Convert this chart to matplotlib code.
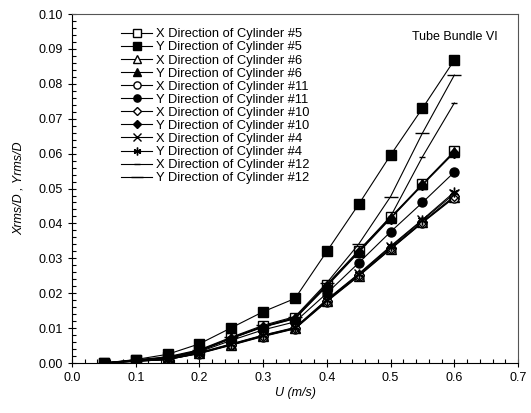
import matplotlib.pyplot as plt
import numpy as np
from matplotlib.ticker import MultipleLocator

plt.rcParams['font.family'] = ['Liberation Sans', 'DejaVu Sans']

# flow velocity U (m/s)
u = [0.05, 0.10, 0.15, 0.20, 0.25, 0.30, 0.35, 0.40, 0.45, 0.50, 0.55, 0.60]

# rms amplitudes
x_cyl5 = [0.0, 0.0008, 0.0016, 0.0036, 0.0072, 0.0105, 0.0130, 0.0225, 0.0322, 0.0418, 0.0513, 0.0607]
y_cyl5 = [0.0, 0.0010, 0.0025, 0.0055, 0.0101, 0.0147, 0.0185, 0.0320, 0.0455, 0.0596, 0.0730, 0.0868]
x_cyl6 = [0.0, 0.0005, 0.0010, 0.0028, 0.0052, 0.0077, 0.0099, 0.0178, 0.0250, 0.0327, 0.0403, 0.0476]
y_cyl6 = [0.0, 0.0008, 0.0015, 0.0035, 0.0071, 0.0104, 0.0128, 0.0222, 0.0319, 0.0416, 0.0512, 0.0605]
x_cyl11 = [0.0, 0.0005, 0.0010, 0.0027, 0.0051, 0.0076, 0.0098, 0.0176, 0.0249, 0.0326, 0.0402, 0.0474]
y_cyl11 = [0.0, 0.0007, 0.0012, 0.0032, 0.0065, 0.0095, 0.0118, 0.0200, 0.0287, 0.0376, 0.0460, 0.0547]
x_cyl10 = [0.0, 0.0005, 0.0010, 0.0028, 0.0053, 0.0078, 0.0100, 0.0179, 0.0252, 0.0330, 0.0405, 0.0478]
y_cyl10 = [0.0, 0.0008, 0.0014, 0.0034, 0.0070, 0.0103, 0.0127, 0.0220, 0.0317, 0.0414, 0.0510, 0.0603]
x_cyl4 = [0.0, 0.0006, 0.0011, 0.0029, 0.0054, 0.0079, 0.0101, 0.0181, 0.0254, 0.0333, 0.0409, 0.0485]
y_cyl4 = [0.0, 0.0006, 0.0011, 0.0030, 0.0055, 0.0080, 0.0102, 0.0182, 0.0256, 0.0335, 0.0411, 0.0490]
x_cyl12 = [0.0, 0.0008, 0.0016, 0.0036, 0.0072, 0.0105, 0.0130, 0.0225, 0.0322, 0.0420, 0.0591, 0.0745]
y_cyl12 = [0.0, 0.0009, 0.0018, 0.0038, 0.0074, 0.0108, 0.0133, 0.0230, 0.0341, 0.0477, 0.0659, 0.0825]

series = [
    ("X Direction of Cylinder #5", x_cyl5, 's', 'white', 6.5),
    ("Y Direction of Cylinder #5", y_cyl5, 's', 'black', 6.5),
    ("X Direction of Cylinder #6", x_cyl6, '^', 'white', 6.5),
    ("Y Direction of Cylinder #6", y_cyl6, '^', 'black', 6.5),
    ("X Direction of Cylinder #11", x_cyl11, 'o', 'white', 6.5),
    ("Y Direction of Cylinder #11", y_cyl11, 'o', 'black', 6.5),
    ("X Direction of Cylinder #10", x_cyl10, 'D', 'white', 5),
    ("Y Direction of Cylinder #10", y_cyl10, 'D', 'black', 5),
    ("X Direction of Cylinder #4", x_cyl4, 'x', 'black', 7),
    ("Y Direction of Cylinder #4", y_cyl4, (6, 2, 0), 'black', 7),
    ("X Direction of Cylinder #12", x_cyl12, '_', 'black', 5),
    ("Y Direction of Cylinder #12", y_cyl12, '_', 'black', 10),
]

fig = plt.figure(figsize=(5.31, 4.13), dpi=100)
ax = fig.add_axes([0.1356, 0.121, 0.84, 0.845])

for label, vals, m, fc, ms in series:
    ax.plot(u, vals, color='black', lw=0.8, marker=m, markersize=ms,
            markerfacecolor=fc, markeredgecolor='black', markeredgewidth=1.0,
            label=label)

ax.set_xlim(0, 0.7)
ax.set_ylim(0, 0.1)
ax.xaxis.set_major_locator(MultipleLocator(0.1))
ax.xaxis.set_minor_locator(MultipleLocator(0.02))
ax.yaxis.set_major_locator(MultipleLocator(0.01))
ax.yaxis.set_minor_locator(MultipleLocator(0.002))
ax.xaxis.set_major_formatter(plt.FormatStrFormatter('%.1f'))
ax.yaxis.set_major_formatter(plt.FormatStrFormatter('%.2f'))
ax.tick_params(which='major', direction='inout', length=6, width=0.8, labelsize=9)
ax.tick_params(which='minor', direction='in', length=3, width=0.8)
for s in ax.spines.values():
    s.set_linewidth(0.8)
ax.spines['top'].set_color('#555555')
ax.spines['right'].set_color('#555555')

ax.set_xlabel("U (m/s)", fontsize=9, style='italic', labelpad=2)
ax.set_ylabel("Xrms/D , Yrms/D", fontsize=9, style='italic', labelpad=10)
ax.text(0.955, 0.935, "Tube Bundle VI", transform=ax.transAxes,
        ha='right', va='center', fontsize=9)

ax.legend(loc='upper left', bbox_to_anchor=(0.09, 0.985), frameon=False,
          fontsize=9.3, handlelength=2.4, handletextpad=0.3, labelspacing=0.08,
          borderpad=0.2, markerscale=0.8)

fig.savefig('out.png', dpi=100)
